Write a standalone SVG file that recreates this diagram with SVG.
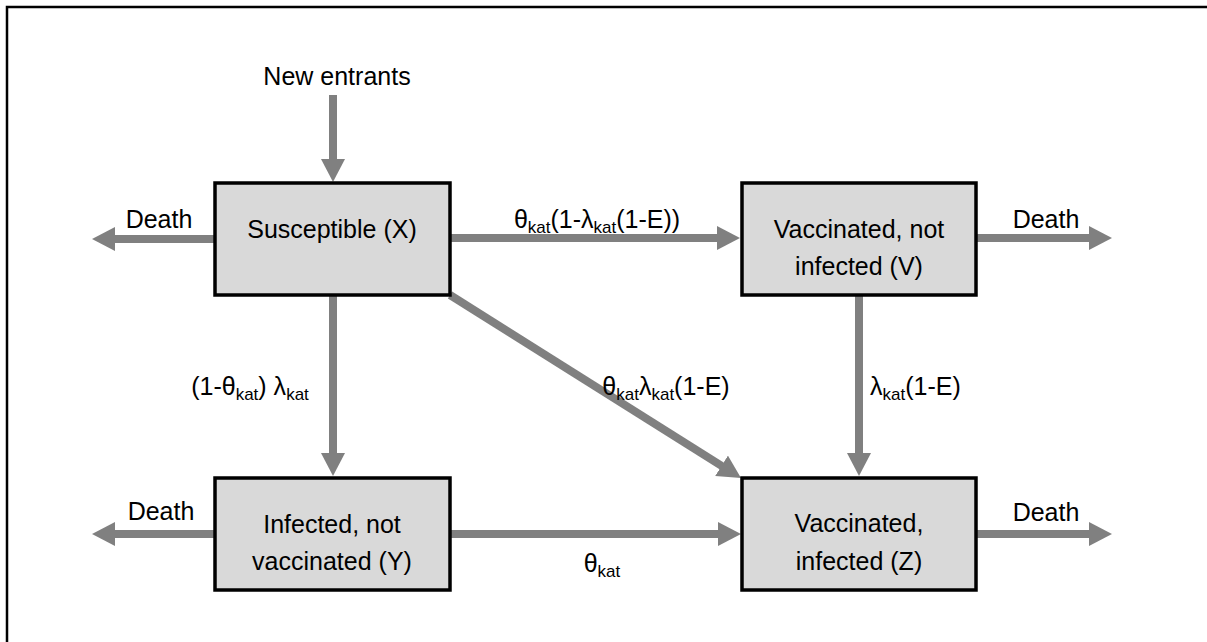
<svg xmlns="http://www.w3.org/2000/svg" width="1207" height="642" viewBox="0 0 1207 642">
<style>
text{font-family:"Liberation Sans",Arial,sans-serif;font-size:25px;fill:#000}
.sub{font-size:17px}
.box{fill:#d9d9d9;stroke:#000;stroke-width:3.5}
.c{fill:none;stroke:#808080;stroke-width:8;marker-end:url(#ah)}
.m{text-anchor:middle}
</style>
<defs>
<marker id="ah" markerUnits="userSpaceOnUse" markerWidth="24" markerHeight="26" refX="1" refY="12" orient="auto">
<path d="M0,0 L23,12 L0,24 Z" fill="#808080"/>
</marker>
</defs>
<rect width="1207" height="642" fill="#fff"/>
<path d="M7,642 V7 H1207" fill="none" stroke="#000" stroke-width="2.5"/>
<g id="connectors">
<path class="c" d="M333,95 V160"/>
<path class="c" d="M450,238 H718"/>
<path class="c" d="M215,239 H114"/>
<path class="c" d="M976,238 H1090"/>
<path class="c" d="M333,295 V454"/>
<path class="c" d="M859,295 V454"/>
<path class="c" d="M450,295 L722.4,466.3"/>
<path class="c" d="M450,534 H719"/>
<path class="c" d="M215,534 H114"/>
<path class="c" d="M976,534 H1090"/>
<text class="m" x="337" y="85">New entrants</text>
<text class="m" x="159" y="228">Death</text>
<text class="m" x="1046" y="228">Death</text>
<text class="m" x="161" y="520">Death</text>
<text class="m" x="1046" y="521">Death</text>
<text class="m" x="597" y="228">θ<tspan class="sub" dy="5">kat</tspan><tspan dy="-5">(1-λ</tspan><tspan class="sub" dy="5">kat</tspan><tspan dy="-5">(1-E))</tspan></text>
<text class="m" x="250" y="395">(1-θ<tspan class="sub" dy="5">kat</tspan><tspan dy="-5">) λ</tspan><tspan class="sub" dy="5">kat</tspan></text>
<text class="m" x="666" y="395">θ<tspan class="sub" dy="5">kat</tspan><tspan dy="-5">λ</tspan><tspan class="sub" dy="5">kat</tspan><tspan dy="-5">(1-E)</tspan></text>
<text x="870" y="395">λ<tspan class="sub" dy="5">kat</tspan><tspan dy="-5">(1-E)</tspan></text>
<text class="m" x="602" y="572">θ<tspan class="sub" dy="5">kat</tspan></text>
</g>
<g id="node-x">
<rect class="box" x="215" y="183" width="235" height="112"/>
<text class="m" x="332" y="238">Susceptible (X)</text>
</g>
<g id="node-v">
<rect class="box" x="742" y="183" width="234" height="112"/>
<text class="m" x="859" y="238">Vaccinated, not</text>
<text class="m" x="859" y="275">infected (V)</text>
</g>
<g id="node-y">
<rect class="box" x="215" y="478" width="235" height="112"/>
<text class="m" x="332" y="533">Infected, not</text>
<text class="m" x="332" y="570">vaccinated (Y)</text>
</g>
<g id="node-z">
<rect class="box" x="742" y="478" width="234" height="112"/>
<text class="m" x="859" y="532">Vaccinated,</text>
<text class="m" x="859" y="570">infected (Z)</text>
</g>
</svg>
